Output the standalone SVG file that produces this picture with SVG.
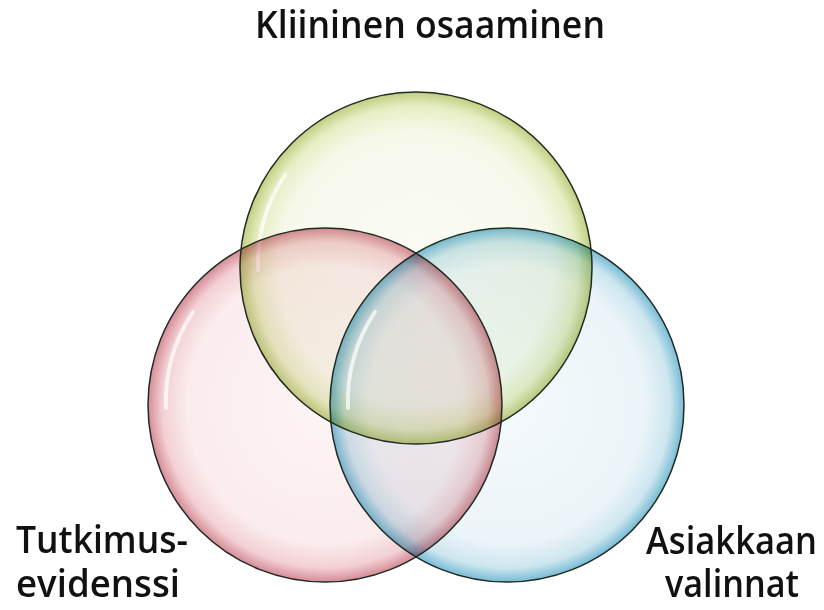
<svg xmlns="http://www.w3.org/2000/svg" width="824" height="610" viewBox="0 0 824 610">
<style>
.lbl{font-family:"Open Sans","Noto Sans","Liberation Sans",sans-serif;font-weight:600;fill:#111;font-size:37px;}
.bub{mix-blend-mode:multiply;}
.rim{fill:none;stroke:#1f2a22;stroke-width:1.5;}
.hl{fill:none;stroke:#ffffff;stroke-opacity:0.7;stroke-linecap:round;}
</style>
<defs>
<radialGradient id="gG" cx="0.5" cy="0.5" r="0.5">
<stop offset="0" stop-color="#fbfcf6"/>
<stop offset="0.78" stop-color="#f6f9ea"/>
<stop offset="0.92" stop-color="#e6eec4"/>
<stop offset="1" stop-color="#c0cf80"/>
</radialGradient>
<radialGradient id="gR" cx="0.5" cy="0.5" r="0.5">
<stop offset="0" stop-color="#fdf5f6"/>
<stop offset="0.78" stop-color="#fbecee"/>
<stop offset="0.92" stop-color="#f3d0d4"/>
<stop offset="1" stop-color="#d68c96"/>
</radialGradient>
<radialGradient id="gB" cx="0.5" cy="0.5" r="0.5">
<stop offset="0" stop-color="#f5fafc"/>
<stop offset="0.78" stop-color="#ebf4f8"/>
<stop offset="0.92" stop-color="#cde6ef"/>
<stop offset="1" stop-color="#78bcd6"/>
</radialGradient>
</defs>
<rect width="824" height="610" fill="#ffffff"/>
<g id="node-green">
<circle class="bub" cx="416" cy="268" r="176" fill="url(#gG)"/>
<path class="hl" stroke-width="4" d="M258 270 A162 162 0 0 1 285 175"/>
</g>
<g id="node-red">
<circle class="bub" cx="325" cy="405" r="177" fill="url(#gR)"/>
<path class="hl" stroke-width="4" d="M166 408 A162 162 0 0 1 193 312"/>
</g>
<g id="node-blue">
<circle class="bub" cx="507" cy="405" r="177" fill="url(#gB)"/>
<path class="hl" stroke-width="4" d="M348 408 A162 162 0 0 1 375 312"/>
</g>
<g id="outlines">
<circle class="rim" cx="416" cy="268" r="176"/>
<circle class="rim" cx="325" cy="405" r="177"/>
<circle class="rim" cx="507" cy="405" r="177"/>
</g>
<g id="labels">
<text class="lbl" x="255" y="38" textLength="350" lengthAdjust="spacingAndGlyphs">Kliininen osaaminen</text>
<text class="lbl" x="16" y="553" textLength="172" lengthAdjust="spacingAndGlyphs">Tutkimus-</text>
<text class="lbl" x="16" y="597" textLength="164" lengthAdjust="spacingAndGlyphs">evidenssi</text>
<text class="lbl" x="646" y="554" textLength="171" lengthAdjust="spacingAndGlyphs">Asiakkaan</text>
<text class="lbl" x="665" y="597" textLength="134" lengthAdjust="spacingAndGlyphs">valinnat</text>
</g>
</svg>
